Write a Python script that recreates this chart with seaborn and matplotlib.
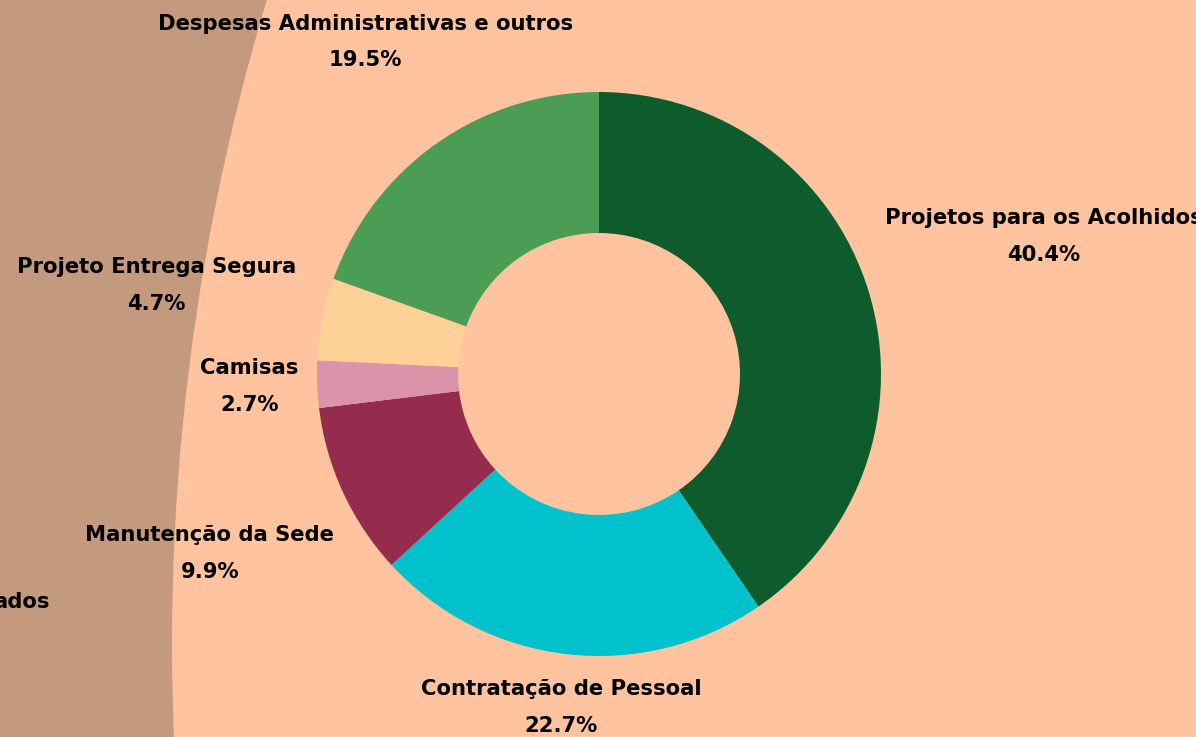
import numpy as np
import matplotlib
matplotlib.use("Agg")
import matplotlib.pyplot as plt
import seaborn as sns
from matplotlib.patches import Circle

# ---- data ----
categories = ["Projetos para os Acolhidos", "Contratação de Pessoal", "Manutenção da Sede",
              "Camisas", "Projeto Entrega Segura", "Despesas Administrativas e outros"]
values = [40.4, 22.7, 9.9, 2.7, 4.7, 19.5]
colors = ["#0E5C2C", "#00C1CC", "#952B4D", "#DA93A8", "#FED198", "#4B9C55"]
label_dist = [1.65, 1.19, 1.52, 1.24, 1.60, 1.44]

sns.set_theme(style="white")
plt.rcParams['font.family'] = ['DejaVu Sans']

W, H = 1196, 737
fig = plt.figure(figsize=(W / 100, H / 100), dpi=100)
fig.patch.set_facecolor("#C49A7E")
ax = fig.add_axes([0, 0, 1, 1])
ax.set_xlim(0, W)
ax.set_ylim(0, H)
ax.set_aspect("equal")
ax.axis("off")

# large peach background panel (left edge visible)
ax.add_patch(Circle((2408, H - 644), 2236, facecolor="#FFC3A0", edgecolor="none", zorder=0))

cx, cy, R = 599, H - 374, 282
wedges, _ = ax.pie(values, colors=colors, startangle=90, counterclock=False,
                   radius=R, center=(cx, cy), frame=True,
                   wedgeprops=dict(width=R * 0.5, edgecolor="none", linewidth=0))
ax.set_xlim(0, W)
ax.set_ylim(0, H)
ax.axis("off")

for w, name, v, d in zip(wedges, categories, values, label_dist):
    ang = np.deg2rad((w.theta1 + w.theta2) / 2)
    x = cx + d * R * np.cos(ang)
    y = cy + d * R * np.sin(ang)
    ax.text(x, y, f"{name}\n{v:.1f}%", ha="center", va="center", fontsize=15.2,
            fontweight="bold", color="black", linespacing=2.05, zorder=5)

# clipped fragments of neighbouring content on the far left
ax.text(50, H - 602, "ados", ha="right", va="center", fontsize=15.2,
        fontweight="bold", color="black")

fig.savefig("out.png", dpi=100, facecolor=fig.get_facecolor())
